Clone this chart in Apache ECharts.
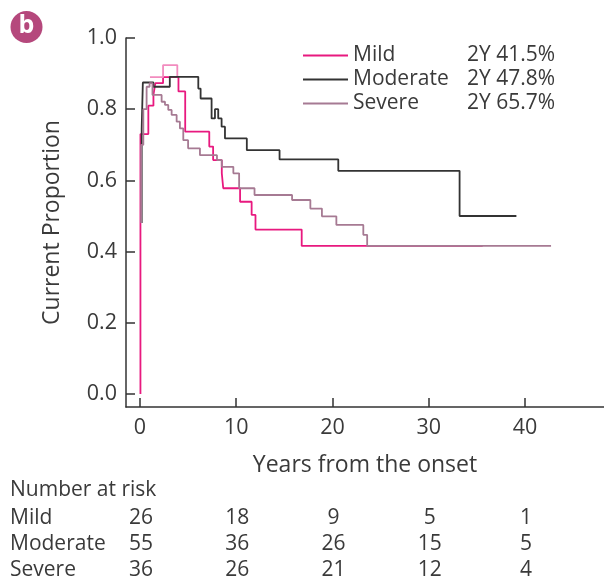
<!DOCTYPE html>
<html><head><meta charset="utf-8">
<script src="https://cdn.jsdelivr.net/npm/echarts@6/dist/echarts.min.js"></script>
<style>html,body{margin:0;padding:0;background:#fff}#c{width:604px;height:582px}</style>
</head><body><div id="c"></div>
<script>
// ---- data ----
const seriesNames = ['Mild', 'Moderate', 'Severe'];
const twoYear = ['2Y 41.5%', '2Y 47.8%', '2Y 65.7%'];
const mildData = [[0.05,0],[0.05,0.73],[0.87,0.81],[1.4,0.84],[1.6,0.873],[2.4,0.89],[4.0,0.85],[4.7,0.737],[7.2,0.695],[7.6,0.657],[8.5,0.62],[8.65,0.578],[10.4,0.54],[11.6,0.503],[12.0,0.462],[16.8,0.416],[35.6,0.416]];
const mildLightData = [[1.04,0.89],[2.4,0.924],[3.88,0.89]];
const moderateData = [[0.18,0.48],[0.18,0.746],[0.3,0.875],[1.4,0.863],[3.1,0.891],[6.06,0.858],[6.3,0.83],[7.44,0.774],[7.79,0.80],[8.13,0.774],[8.48,0.751],[8.83,0.718],[11.1,0.685],[14.5,0.659],[20.6,0.627],[33.2,0.5],[39.1,0.5]];
const severeData = [[0.12,0.48],[0.12,0.70],[0.35,0.80],[0.69,0.863],[1.0,0.873],[1.3,0.84],[2.25,0.821],[2.6,0.812],[2.94,0.798],[3.29,0.784],[3.81,0.765],[4.15,0.746],[4.5,0.713],[5.0,0.69],[6.23,0.671],[8.0,0.657],[8.5,0.638],[9.7,0.62],[10.3,0.578],[11.9,0.559],[15.8,0.545],[17.7,0.521],[18.9,0.499],[20.4,0.475],[23.2,0.447],[23.6,0.416],[42.7,0.416]];
const xTicks = [0, 10, 20, 30, 40];
const yTicks = [0, 0.2, 0.4, 0.6, 0.8, 1.0];
const riskTimes = [0, 10, 20, 30, 40];
const riskMild = [26, 18, 9, 5, 1];
const riskModerate = [55, 36, 26, 15, 5];
const riskSevere = [36, 26, 21, 12, 4];

const FONT = 'Open Sans';
const TXT = '#3a3a3a';
const colors = {Mild:'#e8197f', Moderate:'#333333', Severe:'#a67a93'};

const chart = echarts.init(document.getElementById('c'));
const lineSeries = (name, data, color) => ({
  name, type:'line', data, step:'end', symbol:'none', silent:true,
  lineStyle:{color, width:1.8}, itemStyle:{color}
});

const option = {
  animation:false,
  grid:{left:126, right:0, top:38, bottom:175},
  legend:{
    orient:'vertical', left:298, top:40, itemWidth:45, itemHeight:14, itemGap:3,
    data:seriesNames, icon:'path://M0,6 L45,6 L45,8 L0,8 Z',
    textStyle:{fontFamily:FONT, fontSize:21, color:TXT,
      rich:{a:{width:114, fontFamily:FONT, fontSize:21, color:TXT}, b:{fontFamily:FONT, fontSize:21, color:TXT}}},
    formatter: n => `{a|${n}}{b|${twoYear[seriesNames.indexOf(n)]}}`
  },
  xAxis:{
    type:'value', min:-1.45, max:48.2,
    axisLine:{onZero:false, lineStyle:{color:'#333', width:1.5}},
    axisTick:{inside:true, length:9, customValues:xTicks, lineStyle:{color:'#333', width:1.5}},
    axisLabel:{customValues:xTicks, fontFamily:FONT, fontSize:21.5, color:TXT, margin:10},
    splitLine:{show:false},
    name:'Years from the onset', nameLocation:'middle', nameGap:47,
    nameTextStyle:{fontFamily:FONT, fontSize:23, color:TXT}
  },
  yAxis:{
    type:'value', min:-0.0365, max:1.0,
    axisLine:{show:true, onZero:false, lineStyle:{color:'#333', width:1.5}},
    axisTick:{show:true, inside:true, length:9, customValues:yTicks, lineStyle:{color:'#333', width:1.5}},
    axisLabel:{customValues:yTicks, formatter:v=>v.toFixed(1), fontFamily:FONT, fontSize:21.5, color:TXT, margin:9},
    splitLine:{show:false},
    name:'Current Proportion', nameLocation:'middle', nameGap:62,
    nameTextStyle:{fontFamily:FONT, fontSize:23, color:TXT}
  },
  series:[
    lineSeries('Mild', mildData, colors.Mild),
    lineSeries('MildLight', mildLightData, '#f28cbf'),
    lineSeries('Moderate', moderateData, colors.Moderate),
    lineSeries('Severe', severeData, colors.Severe)
  ]
};
chart.setOption(option);

// number-at-risk table, badge
const rows = [['Mild', riskMild, 518], ['Moderate', riskModerate, 544], ['Severe', riskSevere, 570]];
const F = '21px "Open Sans"';
const g = [];
g.push({type:'circle', shape:{cx:26.5, cy:27, r:16}, style:{fill:'#b5487c'}});
g.push({type:'text', x:26.5, y:26, style:{text:'b', fill:'#fff', font:'bold 25px "Open Sans"', align:'center', verticalAlign:'middle'}});
g.push({type:'text', x:10, y:490, style:{text:'Number at risk', fill:TXT, font:F, verticalAlign:'middle'}});
rows.forEach(([lab, vals, y]) => {
  g.push({type:'text', x:10, y, style:{text:lab, fill:TXT, font:F, verticalAlign:'middle'}});
  vals.forEach((v, i) => {
    const px = chart.convertToPixel({xAxisIndex:0}, riskTimes[i]);
    g.push({type:'text', x:px + 1, y, style:{text:String(v), fill:TXT, font:F, align:'center', verticalAlign:'middle'}});
  });
});
chart.setOption({graphic:g});
</script></body></html>
